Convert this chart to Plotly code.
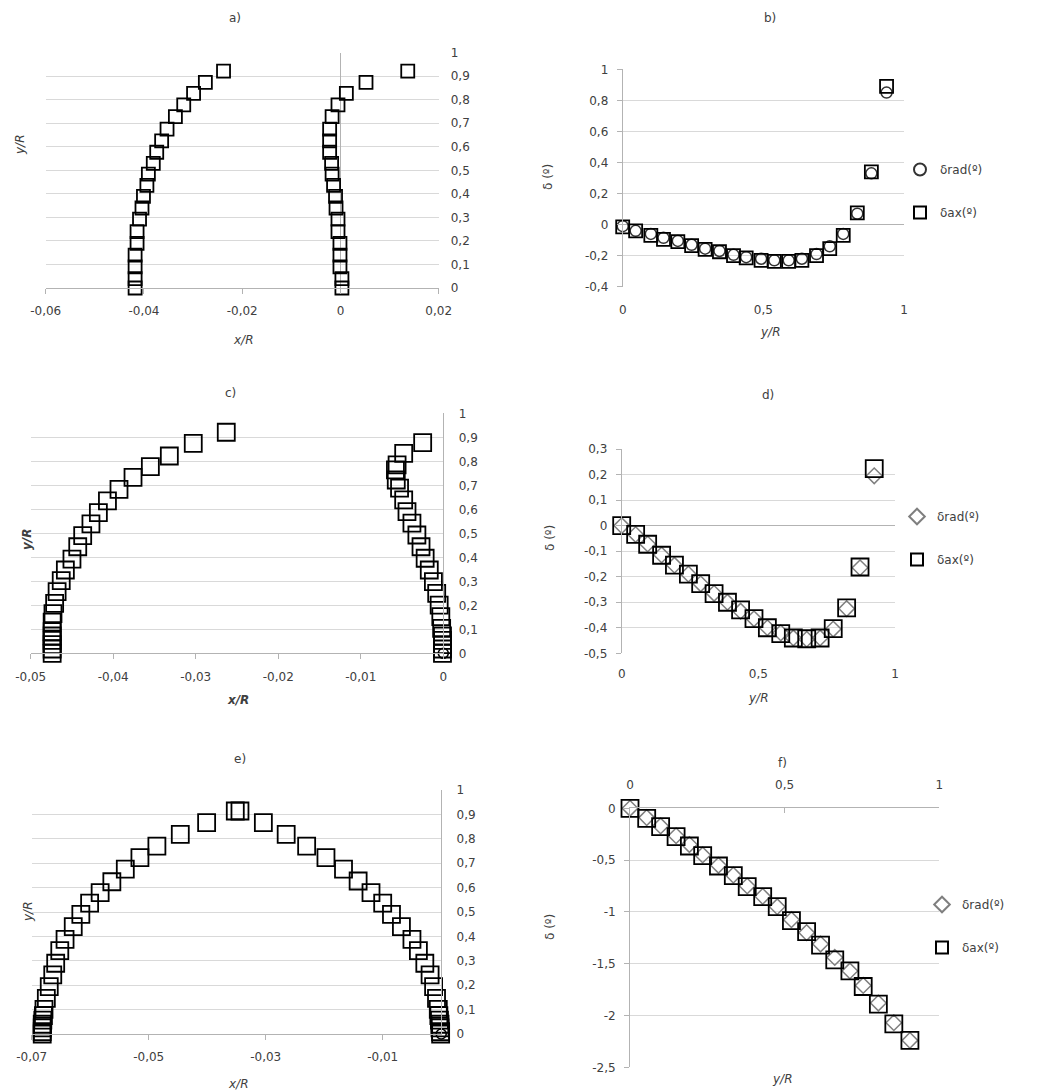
import plotly.graph_objects as go

W, H = 1053, 1092

# ---------------- data ----------------
# a)
a_y = [0.922, 0.874, 0.827, 0.778, 0.728, 0.675, 0.625, 0.577, 0.530, 0.484,
       0.436, 0.389, 0.340, 0.293, 0.240, 0.190, 0.140, 0.090, 0.040, 0.0]
a_left_x = [-0.0238, -0.0275, -0.0299, -0.0319, -0.0336, -0.0353, -0.0364, -0.0374, -0.0381, -0.0391,
            -0.0394, -0.0401, -0.0404, -0.0409, -0.0414, -0.0414, -0.0418, -0.0418, -0.0418, -0.0418]
a_right_x = [0.0137, 0.0052, 0.0012, -0.0005, -0.0017, -0.0022, -0.0022, -0.0022, -0.0018, -0.0017,
             -0.0014, -0.0010, -0.0009, -0.0005, -0.0005, -0.0001, -0.0001, -0.0001, 0.0003, 0.0003]

# b)
b_x = [0, 0.046, 0.10, 0.145, 0.196, 0.245, 0.293, 0.344, 0.394, 0.439,
       0.492, 0.539, 0.590, 0.637, 0.689, 0.736, 0.784, 0.834, 0.884, 0.938]
b_rad = [-0.01, -0.04, -0.06, -0.085, -0.105, -0.13, -0.155, -0.17, -0.195, -0.21,
         -0.22, -0.23, -0.23, -0.22, -0.19, -0.14, -0.06, 0.07, 0.33, 0.85]
b_ax = [-0.015, -0.04, -0.07, -0.095, -0.11, -0.135, -0.16, -0.175, -0.2, -0.215,
        -0.23, -0.237, -0.237, -0.23, -0.2, -0.155, -0.07, 0.075, 0.34, 0.89]

# c)
c_left_y = [0.921, 0.875, 0.822, 0.778, 0.733, 0.683, 0.635, 0.586, 0.539, 0.490, 0.444, 0.392,
            0.347, 0.303, 0.257, 0.208, 0.165, 0.130, 0.090, 0.072, 0.054, 0.036, 0.018, 0.0]
c_left_x = [-0.0263, -0.0303, -0.0332, -0.0355, -0.0376, -0.0393, -0.0407, -0.0418, -0.0427, -0.0437,
            -0.0443, -0.0450, -0.0458, -0.0463, -0.0468, -0.0471, -0.0473, -0.0474, -0.0474, -0.0474,
            -0.0474, -0.0474, -0.0474, -0.0474]
c_right_y = [0.878, 0.833, 0.785, 0.764, 0.722, 0.688, 0.639, 0.590, 0.542, 0.493, 0.444, 0.396,
             0.347, 0.299, 0.250, 0.201, 0.153, 0.104, 0.072, 0.054, 0.036, 0.018, 0.0]
c_right_x = [-0.0025, -0.0048, -0.0056, -0.0058, -0.0057, -0.0053, -0.0048, -0.0044, -0.0038, -0.0032,
             -0.0027, -0.0022, -0.0017, -0.0012, -0.0008, -0.0005, -0.0003, -0.0002, -0.0001, -0.0001,
             -0.0001, -0.0001, -0.0001]

# d)
d_x = [0, 0.051, 0.095, 0.146, 0.193, 0.244, 0.289, 0.338, 0.387, 0.435,
       0.484, 0.533, 0.582, 0.628, 0.677, 0.726, 0.774, 0.823, 0.872, 0.924]
d_rad = [0.0, -0.035, -0.072, -0.115, -0.155, -0.19, -0.228, -0.265, -0.30, -0.335,
         -0.365, -0.40, -0.42, -0.44, -0.445, -0.44, -0.405, -0.325, -0.165, 0.195]
d_ax = [0.0, -0.034, -0.073, -0.116, -0.155, -0.19, -0.227, -0.266, -0.30, -0.33,
        -0.364, -0.40, -0.423, -0.44, -0.443, -0.44, -0.403, -0.322, -0.162, 0.223]

# e)
e_left_y = [0.914, 0.866, 0.818, 0.770, 0.723, 0.676, 0.624, 0.579, 0.536, 0.490, 0.440, 0.388,
            0.342, 0.290, 0.242, 0.194, 0.146, 0.101, 0.075, 0.057, 0.040, 0.025, 0.010, 0.0]
e_left_x = [-0.0352, -0.0401, -0.0446, -0.0486, -0.0515, -0.0540, -0.0563, -0.0583, -0.0601, -0.0616,
            -0.0629, -0.0643, -0.0652, -0.0659, -0.0664, -0.0670, -0.0675, -0.0679, -0.0680, -0.0681,
            -0.0682, -0.0682, -0.0682, -0.0682]
e_right_y = [0.914, 0.866, 0.818, 0.770, 0.723, 0.676, 0.627, 0.579, 0.536, 0.490, 0.440, 0.388,
             0.342, 0.290, 0.242, 0.194, 0.146, 0.101, 0.075, 0.057, 0.040, 0.025, 0.010, 0.0]
e_right_x = [-0.0344, -0.0304, -0.0265, -0.0230, -0.0197, -0.0167, -0.0142, -0.0120, -0.0100, -0.0085,
             -0.0068, -0.0050, -0.0039, -0.0028, -0.0019, -0.0013, -0.0008, -0.0005, -0.0004, -0.0003,
             -0.0002, -0.0002, -0.0001, -0.0001]
origin_x = [0.0]
origin_y = [0.0]

# f)
f_x = [0, 0.054, 0.099, 0.149, 0.192, 0.235, 0.286, 0.334, 0.379, 0.429,
       0.476, 0.522, 0.571, 0.616, 0.662, 0.711, 0.754, 0.803, 0.853, 0.905]
f_rad = [0, -0.09, -0.17, -0.265, -0.35, -0.45, -0.55, -0.645, -0.75, -0.85,
         -0.95, -1.075, -1.2, -1.31, -1.44, -1.57, -1.71, -1.88, -2.07, -2.24]
f_ax = [0, -0.097, -0.177, -0.274, -0.364, -0.457, -0.557, -0.65, -0.756, -0.853,
        -0.95, -1.085, -1.19, -1.32, -1.464, -1.57, -1.72, -1.89, -2.08, -2.24]

# tick labels
yR_vals = [0, 0.1, 0.2, 0.3, 0.4, 0.5, 0.6, 0.7, 0.8, 0.9, 1]
yR_text = ['0', '0,1', '0,2', '0,3', '0,4', '0,5', '0,6', '0,7', '0,8', '0,9', '1']
a_xvals = [-0.06, -0.04, -0.02, 0, 0.02]
a_xtext = ['-0,06', '-0,04', '-0,02', '0', '0,02']
c_xvals = [-0.05, -0.04, -0.03, -0.02, -0.01, 0]
c_xtext = ['-0,05', '-0,04', '-0,03', '-0,02', '-0,01', '0']
e_xvals = [-0.07, -0.05, -0.03, -0.01]
e_xtext = ['-0,07', '-0,05', '-0,03', '-0,01']
u_vals = [0, 0.5, 1]
u_text = ['0', '0,5', '1']
b_yvals = [-0.4, -0.2, 0, 0.2, 0.4, 0.6, 0.8, 1]
b_ytext = ['-0,4', '-0,2', '0', '0,2', '0,4', '0,6', '0,8', '1']
d_yvals = [-0.5, -0.4, -0.3, -0.2, -0.1, 0, 0.1, 0.2, 0.3]
d_ytext = ['-0,5', '-0,4', '-0,3', '-0,2', '-0,1', '0', '0,1', '0,2', '0,3']
f_yvals = [-2.5, -2, -1.5, -1, -0.5, 0]
f_ytext = ['-2,5', '-2', '-1,5', '-1', '-0,5', '0']

# ---------------- styling ----------------
FONT = 'DejaVu Sans, Verdana, sans-serif'
FS = 12
TXT = '#404040'
GRID = '#d9d9d9'
AX = '#b3b3b3'


def px_x(p):
    return p / W


def px_y(p):
    return 1 - p / H


fig = go.Figure()


def sq(x, y, xa, ya, size, name=None, legend=None, show=False):
    fig.add_trace(go.Scatter(
        x=x, y=y, xaxis=xa, yaxis=ya, mode='markers', name=name or '',
        showlegend=show, legend=legend, legendgroup=(name or '') + (legend or ''),
        cliponaxis=False,
        marker=dict(symbol='square-open', size=size, color='#000000', line=dict(width=1.8))))


def other(x, y, xa, ya, symbol, size, color, name, legend):
    fig.add_trace(go.Scatter(
        x=x, y=y, xaxis=xa, yaxis=ya, mode='markers', name=name,
        showlegend=True, legend=legend, legendgroup=name + legend,
        cliponaxis=False,
        marker=dict(symbol=symbol, size=size, color=color, line=dict(width=1.5))))


# a)
sq(a_left_x, a_y, 'x', 'y', 13)
sq(a_right_x, a_y, 'x', 'y', 13)
# b)
other(b_x, b_rad, 'x2', 'y2', 'circle-open', 11, '#333333', 'δrad(º)', 'legend')
sq(b_x, b_ax, 'x2', 'y2', 13, 'δax(º)', 'legend', True)
# c)
sq(c_left_x, c_left_y, 'x3', 'y3', 17)
sq(c_right_x, c_right_y, 'x3', 'y3', 17)
fig.add_trace(go.Scatter(x=origin_x, y=origin_y, xaxis='x3', yaxis='y3', mode='markers',
                         showlegend=False, cliponaxis=False,
                         marker=dict(symbol='circle-open', size=10, color='#000000', line=dict(width=1.6))))
# d)
other(d_x, d_rad, 'x4', 'y4', 'diamond-open', 12, '#7f7f7f', 'δrad(º)', 'legend2')
sq(d_x, d_ax, 'x4', 'y4', 17, 'δax(º)', 'legend2', True)
# e)
sq(e_left_x, e_left_y, 'x5', 'y5', 17)
sq(e_right_x, e_right_y, 'x5', 'y5', 17)
fig.add_trace(go.Scatter(x=origin_x, y=origin_y, xaxis='x5', yaxis='y5', mode='markers',
                         showlegend=False, cliponaxis=False,
                         marker=dict(symbol='circle-open', size=10, color='#000000', line=dict(width=1.6))))
# f)
other(f_x, f_rad, 'x6', 'y6', 'diamond-open', 12, '#7f7f7f', 'δrad(º)', 'legend3')
sq(f_x, f_ax, 'x6', 'y6', 17, 'δax(º)', 'legend3', True)

tickfont = dict(family=FONT, size=FS, color=TXT)


def xax(dom, rng, vals, text, anchor, side='bottom', ticks='outside', showline=True, zeroline=False, standoff=7):
    return dict(domain=[px_x(dom[0]), px_x(dom[1])], range=rng, tickvals=vals, ticktext=text,
                anchor=anchor, side=side, showgrid=False, zeroline=zeroline, zerolinecolor=AX,
                zerolinewidth=1, showline=showline, linecolor=AX, linewidth=1,
                ticks=ticks, ticklen=5, tickcolor=AX, tickfont=tickfont, ticklabelstandoff=standoff,
                automargin=False, fixedrange=True)


def yax(dom, rng, vals, text, anchor, side='left', showline=True, ticks='outside', zeroline=False, standoff=6):
    return dict(domain=[px_y(dom[1]), px_y(dom[0])], range=rng, tickvals=vals, ticktext=text,
                anchor=anchor, side=side, showgrid=True, gridcolor=GRID, gridwidth=1,
                zeroline=zeroline, zerolinecolor=AX, zerolinewidth=1,
                showline=showline, linecolor=AX, linewidth=1,
                ticks=ticks, ticklen=5, tickcolor=AX, tickfont=tickfont, ticklabelstandoff=standoff,
                automargin=False, fixedrange=True)


layout = dict(
    width=W, height=H, margin=dict(l=0, r=0, t=0, b=0, autoexpand=False),
    paper_bgcolor='white', plot_bgcolor='white',
    font=dict(family=FONT, size=FS, color=TXT),
    xaxis=xax((45.7, 438.7), [-0.06, 0.02], a_xvals, a_xtext, 'y', zeroline=True),
    yaxis=yax((52.7, 288), [0, 1], yR_vals, yR_text, 'x', side='right', showline=False, ticks='', standoff=11),
    xaxis2=xax((622.7, 904), [0, 1], u_vals, u_text, 'y2', ticks='', showline=False, standoff=14),
    yaxis2=yax((69.3, 286.7), [-0.4, 1], b_yvals, b_ytext, 'x2', zeroline=True),
    xaxis3=xax((30.7, 443.3), [-0.05, 0], c_xvals, c_xtext, 'y3'),
    yaxis3=yax((413.3, 653.3), [0, 1], yR_vals, yR_text, 'x3', side='right', ticks='', standoff=12),
    xaxis4=xax((621.7, 895), [0, 1], u_vals, u_text, 'y4', ticks='', showline=False, standoff=12),
    yaxis4=yax((449, 653.3), [-0.5, 0.3], d_yvals, d_ytext, 'x4', zeroline=True),
    xaxis5=xax((31.7, 441.2), [-0.07, 0], e_xvals, e_xtext, 'y5'),
    yaxis5=yax((790, 1034), [0, 1], yR_vals, yR_text, 'x5', side='right', ticks='', standoff=12),
    xaxis6=xax((630, 939.3), [0, 1], u_vals, u_text, 'y6', side='top', ticks='inside', standoff=14),
    yaxis6=yax((808.3, 1067.3), [-2.5, 0], f_yvals, f_ytext, 'x6'),
)

leg_common = dict(xanchor='left', yanchor='middle', bgcolor='rgba(0,0,0,0)', borderwidth=0,
                  font=dict(family=FONT, size=FS, color=TXT), tracegroupgap=24,
                  itemsizing='constant', itemwidth=30)
layout['legend'] = dict(x=px_x(900), y=px_y(191), **leg_common)
layout['legend2'] = dict(x=px_x(897), y=px_y(538), **leg_common)
layout['legend3'] = dict(x=px_x(922), y=px_y(926), **leg_common)

fig.update_layout(**layout)

ann = []


def text(x, y, s, angle=0, italic=False, bold=False, size=FS):
    if italic:
        s = '<i>' + s + '</i>'
    if bold:
        s = '<b>' + s + '</b>'
    ann.append(dict(x=px_x(x), y=px_y(y), xref='paper', yref='paper', text=s, showarrow=False,
                    textangle=angle, xanchor='center', yanchor='middle',
                    font=dict(family=FONT, size=size, color=TXT)))


# panel titles
text(235, 18, 'a)')
text(770, 18, 'b)')
text(230, 393, 'c)')
text(768, 395, 'd)')
text(240, 759, 'e)')
text(782, 763, 'f)')
# axis titles
text(243, 340, 'x/R', italic=True)
text(20, 145, 'y/R', angle=-90, italic=True)
text(770, 332, 'y/R', italic=True)
text(548, 177, 'δ (º)', angle=-90)
text(238, 700, 'x/R', italic=True, bold=True)
text(27, 540, 'y/R', angle=-90, italic=True, bold=True)
text(758, 698, 'y/R', italic=True)
text(550, 538, 'δ (º)', angle=-90)
text(238, 1084, 'x/R', italic=True)
text(28, 912, 'y/R', angle=-90, italic=True)
text(782, 1079, 'y/R', italic=True)
text(550, 927, 'δ (º)', angle=-90)

fig.update_layout(annotations=ann)
fig.write_html('out.html', config={'displayModeBar': False},
               post_script="document.body.style.margin='0px';document.body.style.overflow='hidden';")
